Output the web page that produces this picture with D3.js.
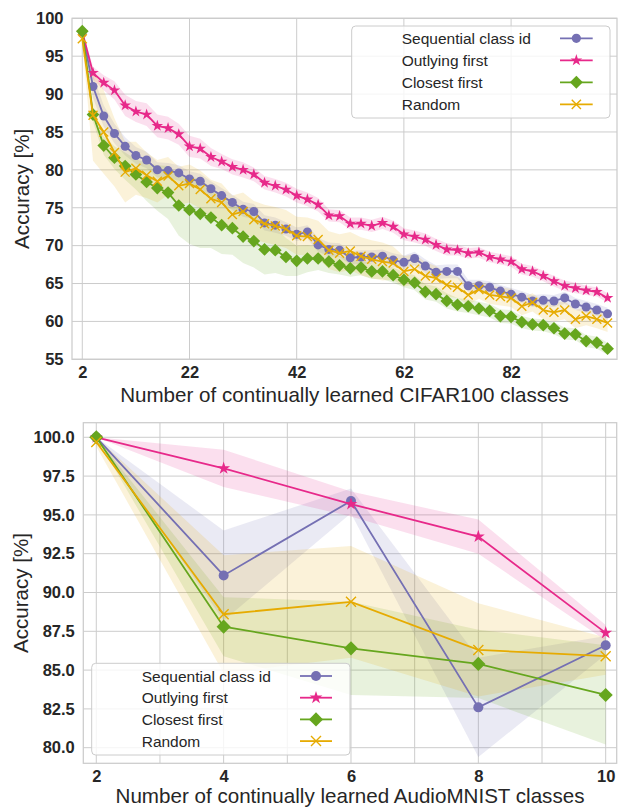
<!DOCTYPE html>
<html><head><meta charset="utf-8">
<script src="https://cdn.jsdelivr.net/npm/d3@7"></script>
<style>body{margin:0;background:#fff} svg{display:block} text{font-family:"Liberation Sans",Arial,sans-serif;fill:#262626}</style>
</head><body><svg id="c" width="618" height="808"></svg>
<script>
// ---------- DATA: CIFAR100 ----------
const cifarClasses = [2,4,6,8,10,12,14,16,18,20,22,24,26,28,30,32,34,36,38,40,42,44,46,48,50,52,54,56,58,60,62,64,66,68,70,72,74,76,78,80,82,84,86,88,90,92,94,96,98,100];
const cifarTicks = [2,22,42,62,82];
const cifarYTicks = [55,60,65,70,75,80,85,90,95,100];
const cifarSeq = [98.2,91.0,87.1,84.8,83.1,81.9,81.3,80.0,79.9,79.6,78.8,78.5,77.5,76.6,75.7,74.8,74.5,73.0,72.7,72.2,71.5,71.8,70.1,69.5,69.4,68.4,68.5,68.5,68.6,68.1,67.8,68.3,67.3,66.5,66.6,66.6,64.7,64.7,64.5,64.0,63.6,63.2,62.7,62.8,62.7,63.1,62.3,61.9,61.5,61.0];
const cifarOut = [98.2,92.8,91.5,90.5,88.5,87.7,87.3,85.8,85.5,84.7,83.1,82.8,81.7,81.1,80.4,80.0,79.4,78.3,77.9,77.4,76.6,76.1,75.4,74.0,73.9,72.9,72.9,72.6,73.0,72.5,71.5,71.2,70.8,70.1,69.5,69.4,69.0,69.1,68.5,68.2,67.9,66.9,66.6,66.0,65.3,64.7,64.4,64.1,63.9,63.1];
const cifarClose = [98.3,87.3,83.2,81.6,80.5,79.4,78.4,77.6,77.0,75.3,74.7,74.2,73.7,72.7,72.3,71.2,70.6,69.5,69.4,68.5,68.0,68.3,68.3,67.9,67.4,67.0,67.1,66.6,66.6,66.1,65.5,65.1,63.9,63.6,62.7,62.2,62.0,61.7,61.4,60.7,60.6,59.9,59.6,59.5,59.1,58.4,58.3,57.4,57.2,56.4];
const cifarRand = [97.3,87.2,85.0,82.3,79.7,80.2,79.3,78.5,79.2,77.9,78.2,77.4,76.2,75.7,74.1,74.5,73.4,72.9,72.6,72.2,71.3,71.2,70.8,69.4,69.0,69.3,68.6,68.2,67.9,67.7,66.6,66.9,66.0,65.7,64.8,64.5,63.5,64.2,63.5,63.3,63.1,62.0,62.5,61.5,61.2,61.5,60.3,60.7,60.3,59.8];
const cifarSeqStd = [0.3,1.5,1.4,1.3,1.2,1.1,1.1,1.0,1.0,1.0,1.0,1.0,1.0,1.0,1.0,1.0,1.0,1.0,1.0,0.9,0.9,0.9,0.9,0.9,0.9,0.9,0.9,0.9,0.9,0.9,0.9,0.9,0.9,0.9,0.9,0.9,0.8,0.8,0.8,0.8,0.8,0.8,0.8,0.8,0.8,0.8,0.8,0.8,0.8,0.8];
const cifarOutStd = [0.3,0.8,1.0,1.2,1.4,1.4,1.5,1.5,1.5,1.4,1.4,1.3,1.2,1.0,1.0,1.0,0.9,0.9,0.9,0.9,0.9,0.9,0.9,0.8,0.8,0.8,0.8,0.8,0.8,0.8,0.8,0.8,0.8,0.8,0.8,0.7,0.7,0.7,0.7,0.7,0.7,0.7,0.7,0.7,0.7,0.7,0.7,0.6,0.6,0.6];
const cifarCloseStd = [0.3,1.0,1.2,1.5,1.8,2.0,2.5,3.0,3.5,4.0,4.5,4.5,4.0,3.8,3.5,3.5,3.5,3.3,3.0,2.5,2.0,1.8,1.5,1.5,1.2,1.1,1.0,1.0,1.0,1.0,1.0,1.0,1.0,1.0,1.0,0.9,0.9,0.9,0.9,0.9,0.9,0.8,0.8,0.8,0.8,0.8,0.8,0.8,0.8,0.8];
const cifarRandStd = [0.5,6.0,5.5,4.5,4.0,3.5,3.0,2.8,2.5,2.5,2.5,2.5,2.5,2.5,2.5,2.5,2.5,2.5,2.5,2.5,2.5,2.5,2.5,2.5,2.5,2.5,2.5,2.5,2.5,2.2,2.0,2.0,1.8,1.6,1.5,1.4,1.3,1.2,1.2,1.2,1.2,1.2,1.2,1.2,1.2,1.2,1.2,1.2,1.2,1.2];

// ---------- DATA: AudioMNIST ----------
const audioClasses = [2,4,6,8,10];
const audioTicks = [2,4,6,8,10];
const audioGrid = [2,3,4,5,6,7,8,9,10];
const audioYTicks = [80.0,82.5,85.0,87.5,90.0,92.5,95.0,97.5,100.0];
const audioSeq = [100.0,91.1,95.9,82.6,86.6];
const audioOut = [100.0,98.0,95.7,93.6,87.4];
const audioClose = [100.0,87.8,86.4,85.4,83.4];
const audioRand = [99.7,88.6,89.4,86.3,85.9];
const audioSeqStd = [0.0,2.9,0.8,3.2,0.6];
const audioOutStd = [0.0,1.2,0.8,1.1,0.5];
const audioCloseStd = [0.0,1.9,3.0,2.2,3.2];
const audioRandStd = [0.3,3.8,3.6,3.0,1.2];

const seriesNames = ["Sequential class id","Outlying first","Closest first","Random"];
const seriesColors = ["#7570b3","#e7298a","#66a61e","#e6ab02"];
const seriesMarkers = ["circle","star","diamond","x"];

// ---------- DRAW ----------
const svg = d3.select("#c");

function markerPath(type, r){
  if(type==="circle") return d3.symbol(d3.symbolCircle, Math.PI*r*r)();
  if(type==="star"){ const R=r*1.35; return d3.symbol(d3.symbolStar, R*R/0.8908130915)(); }
  if(type==="diamond"){ const h=r*1.41; return d3.symbol(d3.symbolSquare, 2*h*h)(); }
  return `M${-r},${-r}L${r},${r}M${-r},${r}L${r},${-r}`;
}
function drawMarker(g, type, color, r, x, y){
  const p = g.append("path").attr("d", markerPath(type,r))
    .attr("transform", `translate(${x},${y})` + (type==="diamond" ? " rotate(45)" : ""));
  if(type==="x") p.attr("fill","none").attr("stroke",color).attr("stroke-width",1.4);
  else p.attr("fill",color).attr("stroke","none");
}

function panel(cfg){
  const g = svg.append("g");
  const x = d3.scaleLinear().domain(cfg.xDomain).range([cfg.left, cfg.right]);
  const y = d3.scaleLinear().domain(cfg.yDomain).range([cfg.bottom, cfg.top]);
  // grid
  g.selectAll(".gx").data(cfg.xGrid).join("line")
    .attr("x1",d=>x(d)).attr("x2",d=>x(d)).attr("y1",cfg.top).attr("y2",cfg.bottom)
    .attr("stroke","#cccccc").attr("stroke-width",1);
  g.selectAll(".gy").data(cfg.yTicks).join("line")
    .attr("y1",d=>y(d)).attr("y2",d=>y(d)).attr("x1",cfg.left).attr("x2",cfg.right)
    .attr("stroke","#cccccc").attr("stroke-width",1);
  // spines
  g.append("rect").attr("x",cfg.left).attr("y",cfg.top).attr("width",cfg.right-cfg.left).attr("height",cfg.bottom-cfg.top)
    .attr("fill","none").attr("stroke","#cccccc").attr("stroke-width",1.25);
  // tick labels
  const yAxis = d3.axisLeft(y).tickValues(cfg.yTicks).tickFormat(cfg.yFormat).tickSize(0).tickPadding(8.5);
  const ya = g.append("g").attr("transform",`translate(${cfg.left},0)`).call(yAxis);
  ya.select(".domain").remove();
  ya.selectAll("text").attr("font-size","16.5px").attr("font-weight","bold").attr("fill","#262626")
    .attr("font-family","Liberation Sans, Arial, sans-serif");
  const xAxis = d3.axisBottom(x).tickValues(cfg.xTicks).tickFormat(d3.format("d")).tickSize(0).tickPadding(7);
  const xa = g.append("g").attr("transform",`translate(0,${cfg.bottom})`).call(xAxis);
  xa.select(".domain").remove();
  xa.selectAll("text").attr("font-size","16.5px").attr("font-weight","bold").attr("fill","#262626")
    .attr("font-family","Liberation Sans, Arial, sans-serif");
  // axis labels
  g.append("text").attr("x",(cfg.left+cfg.right)/2 + cfg.xlabelDx).attr("y",cfg.xlabelY).attr("text-anchor","middle")
    .attr("font-size","20.6px").text(cfg.xlabel);
  g.append("text").attr("transform",`translate(${cfg.ylabelX},${(cfg.top+cfg.bottom)/2}) rotate(-90)`)
    .attr("text-anchor","middle").attr("font-size","20.6px").text("Accuracy [%]");
  // clip
  const cid = "clip"+cfg.id;
  svg.append("clipPath").attr("id",cid).append("rect")
    .attr("x",cfg.left).attr("y",cfg.top).attr("width",cfg.right-cfg.left).attr("height",cfg.bottom-cfg.top);
  const data = g.append("g").attr("clip-path",`url(#${cid})`);
  // bands
  cfg.series.forEach((s,i)=>{
    const pts = cfg.xs.map((xv,j)=>({x:xv, m:s[j], sd:cfg.stds[i][j]}));
    data.append("path").datum(pts)
      .attr("d", d3.area().x(d=>x(d.x)).y0(d=>y(d.m-d.sd)).y1(d=>y(d.m+d.sd)))
      .attr("fill",seriesColors[i]).attr("fill-opacity",0.15).attr("stroke","none");
  });
  // lines + markers
  cfg.series.forEach((s,i)=>{
    const pts = cfg.xs.map((xv,j)=>({x:xv, m:s[j]}));
    data.append("path").datum(pts)
      .attr("d", d3.line().x(d=>x(d.x)).y(d=>y(d.m)))
      .attr("fill","none").attr("stroke",seriesColors[i]).attr("stroke-width",cfg.lw);
    pts.forEach(d=>drawMarker(data, seriesMarkers[i], seriesColors[i], cfg.mr, x(d.x), y(d.m)));
  });
  // legend
  const L = cfg.legend;
  g.append("rect").attr("x",L.x).attr("y",L.y).attr("width",L.w).attr("height",L.h).attr("rx",4)
    .attr("fill","#ffffff").attr("fill-opacity",0.8).attr("stroke","#cccccc").attr("stroke-width",1);
  seriesNames.forEach((n,i)=>{
    const by = L.base0 + i*L.step;
    g.append("text").attr("x",L.tx).attr("y",by).attr("font-size","15.5px").text(n);
    const my = by - 5.7;
    g.append("line").attr("x1",L.hx1).attr("x2",L.hx2).attr("y1",my).attr("y2",my)
      .attr("stroke",seriesColors[i]).attr("stroke-width",cfg.lw);
    drawMarker(g, seriesMarkers[i], seriesColors[i], L.mr, (L.hx1+L.hx2)/2, my);
  });
}

panel({
  id:"top", left:72, right:617, top:18.3, bottom:359.3,
  xDomain:[0.08,101.76], yDomain:[55,100],
  xs:cifarClasses, xTicks:cifarTicks, xGrid:cifarTicks, yTicks:cifarYTicks, yFormat:d3.format("d"),
  series:[cifarSeq,cifarOut,cifarClose,cifarRand], stds:[cifarSeqStd,cifarOutStd,cifarCloseStd,cifarRandStd],
  lw:1.8, mr:4.5,
  xlabel:"Number of continually learned CIFAR100 classes", xlabelY:402, xlabelDx:0, ylabelX:29,
  legend:{x:351.7,y:26,w:258.3,h:92,tx:401.7,base0:44,step:22,hx1:560,hx2:592.7,mr:4.6}
});
panel({
  id:"bot", left:83.3, right:616.7, top:422.7, bottom:763.3,
  xDomain:[1.796,10.173], yDomain:[78.995,100.94],
  xs:audioClasses, xTicks:audioTicks, xGrid:audioGrid, yTicks:audioYTicks, yFormat:d3.format(".1f"),
  series:[audioSeq,audioOut,audioClose,audioRand], stds:[audioSeqStd,audioOutStd,audioCloseStd,audioRandStd],
  lw:1.8, mr:5,
  xlabel:"Number of continually learned AudioMNIST classes", xlabelY:803.3, xlabelDx:0, ylabelX:28,
  legend:{x:91.7,y:663.3,w:258.3,h:91.7,tx:141.7,base0:681.7,step:21.7,hx1:300,hx2:332,mr:5}
});
</script></body></html>
